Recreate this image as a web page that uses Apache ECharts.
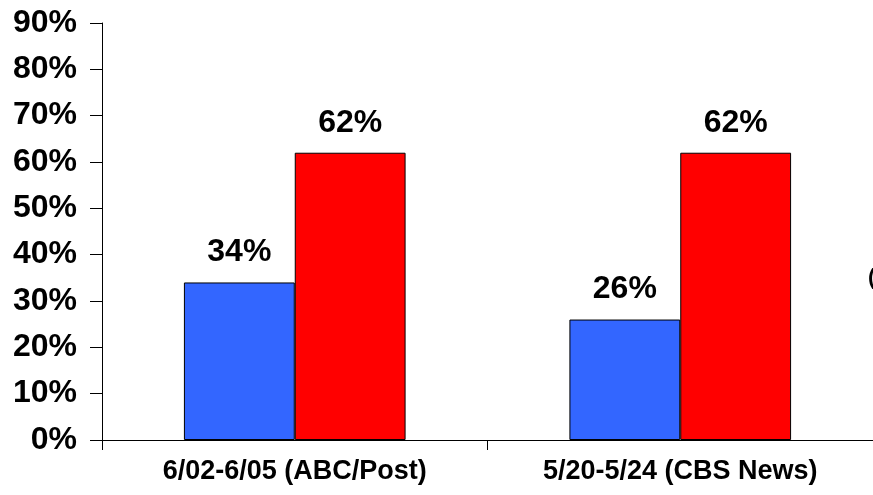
<!DOCTYPE html>
<html><head><meta charset="utf-8">
<script src="https://cdn.jsdelivr.net/npm/echarts@6/dist/echarts.min.js"></script>
<style>html,body{margin:0;padding:0;background:#fff}#c{width:873px;height:495px}</style>
</head><body><div id="c"></div>
<script>
const categories = ['6/02-6/05 (ABC/Post)', '5/20-5/24 (CBS News)'];
const blueValues = [34, 26];
const redValues = [62, 62];
const yTicks = [0, 10, 20, 30, 40, 50, 60, 70, 80, 90];

const chart = echarts.init(document.getElementById('c'));
const font = 'Liberation Sans, Arial, sans-serif';
const labelCfg = {show: true, position: 'top', distance: 14, formatter: '{c}%', fontFamily: font, fontWeight: 'bold', fontSize: 32, color: '#000'};
chart.setOption({
  animation: false,
  grid: {left: 102, right: 0, top: 23, bottom: 55},
  xAxis: {
    type: 'category', data: categories,
    axisLine: {lineStyle: {color: '#000', width: 1}},
    axisTick: {show: true, length: 10, lineStyle: {color: '#000'}},
    axisLabel: {fontFamily: font, fontWeight: 'bold', fontSize: 27, color: '#000', margin: 18}
  },
  yAxis: {
    type: 'value', min: yTicks[0], max: yTicks[yTicks.length - 1], interval: 10,
    splitLine: {show: false},
    axisLine: {show: true, lineStyle: {color: '#000', width: 1}},
    axisTick: {show: true, length: 12, lineStyle: {color: '#000'}},
    axisLabel: {formatter: '{value}%', fontFamily: font, fontWeight: 'bold', fontSize: 32, color: '#000', margin: 25}
  },
  series: [
    {type: 'bar', data: blueValues, barCategoryGap: '42.5%', barGap: '0%',
     itemStyle: {color: '#3366FF', borderColor: '#000', borderWidth: 1}, label: labelCfg},
    {type: 'bar', data: redValues, barGap: '0%',
     itemStyle: {color: '#FF0000', borderColor: '#000', borderWidth: 1}, label: labelCfg}
  ],
  graphic: [{type: 'text', left: 868, top: 267, style: {text: '(', font: 'bold 22px ' + font, fill: '#000'}}]
});
</script></body></html>
